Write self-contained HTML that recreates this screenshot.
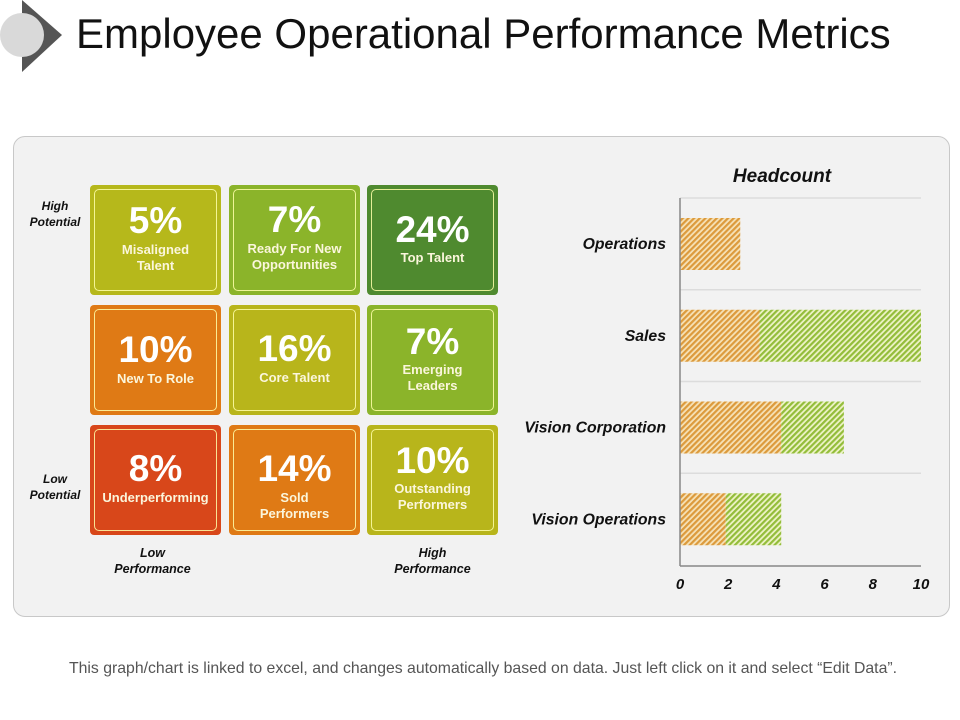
<!DOCTYPE html>
<html><head><meta charset="utf-8"><style>
body{margin:0;width:960px;height:720px;background:#fff;font-family:"Liberation Sans",Arial,sans-serif;position:relative;overflow:hidden}
.abs{position:absolute}
.panel{left:13px;top:136px;width:935px;height:479px;background:#f2f2f2;border:1px solid #c8c8c8;border-radius:12px}
.tile{position:absolute;width:131px;height:110px;border-radius:4px;color:#fff}
.tile .inner{position:absolute;left:4px;top:4px;right:4px;bottom:4px;border:1.5px solid rgba(255,255,170,0.85);border-radius:5px}
.tile .pct{position:absolute;left:0;width:100%;text-align:center;font-weight:bold;font-size:37px;line-height:37px}
.tile .lbl{position:absolute;left:0;width:100%;text-align:center;font-weight:bold;font-size:13px;line-height:16px;color:#fbf6dc}
.axl{font-size:12.5px;font-weight:bold;font-style:italic;text-align:center;line-height:16px;color:#111}
</style></head><body>
<div class="abs" style="left:0;top:0;width:70px;height:72px">
<svg width="70" height="72"><polygon points="22,0 62,35 22,72" fill="#555"/><circle cx="22" cy="35" r="22" fill="#d9d9d9"/></svg></div>
<div class="abs" style="left:76px;top:10px;font-size:42px;color:#111;white-space:nowrap">Employee Operational Performance Metrics</div>
<div class="abs panel"></div>

<div class="abs axl" style="left:17px;top:198px;width:76px;font-size:12px">High<br>Potential</div>
<div class="abs axl" style="left:17px;top:471px;width:76px;font-size:12px">Low<br>Potential</div>
<div class="abs axl" style="left:100px;top:545px;width:105px">Low<br>Performance</div>
<div class="abs axl" style="left:380px;top:545px;width:105px">High<br>Performance</div>

<div class="tile" style="left:90px;top:185px;background:#b6b81b"><div class="inner"></div><div class="pct" style="top:17px">5%</div><div class="lbl" style="top:57px">Misaligned<br>Talent</div></div>
<div class="tile" style="left:229px;top:185px;background:#8bb42a"><div class="inner"></div><div class="pct" style="top:16px">7%</div><div class="lbl" style="top:56px">Ready For New<br>Opportunities</div></div>
<div class="tile" style="left:367px;top:185px;background:#4f8a2f"><div class="inner"></div><div class="pct" style="top:26px">24%</div><div class="lbl" style="top:65px">Top Talent</div></div>
<div class="tile" style="left:90px;top:305px;background:#df7a15"><div class="inner"></div><div class="pct" style="top:26px">10%</div><div class="lbl" style="top:66px">New To Role</div></div>
<div class="tile" style="left:229px;top:305px;background:#b8b51b"><div class="inner"></div><div class="pct" style="top:25px">16%</div><div class="lbl" style="top:65px">Core Talent</div></div>
<div class="tile" style="left:367px;top:305px;background:#8bb42a"><div class="inner"></div><div class="pct" style="top:18px">7%</div><div class="lbl" style="top:57px">Emerging<br>Leaders</div></div>
<div class="tile" style="left:90px;top:425px;background:#d8471a"><div class="inner"></div><div class="pct" style="top:25px">8%</div><div class="lbl" style="top:65px">Underperforming</div></div>
<div class="tile" style="left:229px;top:425px;background:#df7a15"><div class="inner"></div><div class="pct" style="top:25px">14%</div><div class="lbl" style="top:65px">Sold<br>Performers</div></div>
<div class="tile" style="left:367px;top:425px;background:#b8b51b"><div class="inner"></div><div class="pct" style="top:17px">10%</div><div class="lbl" style="top:56px">Outstanding<br>Performers</div></div>

<svg class="abs" id="chart" style="left:0;top:0" width="960" height="720">
<defs>
<pattern id="pOr" width="4" height="4" patternUnits="userSpaceOnUse" patternTransform="rotate(45)"><rect width="4" height="4" fill="#f6e2b8"/><rect width="2.2" height="4" fill="#dc9a3c"/></pattern>
<pattern id="pGr" width="4" height="4" patternUnits="userSpaceOnUse" patternTransform="rotate(45)"><rect width="4" height="4" fill="#eef3c8"/><rect width="2.2" height="4" fill="#93bd3a"/></pattern>
</defs>
<text x="782" y="182" text-anchor="middle" font-size="19" font-weight="bold" font-style="italic" fill="#111">Headcount</text>
<g id="g"></g>
</svg>
<div class="abs" style="left:0;width:966px;top:660px;text-align:center;font-size:15.8px;color:#555;white-space:nowrap">This graph/chart is linked to excel, and changes automatically based on data. Just left click on it and select “Edit Data”.</div>
<script>
const categories=["Operations","Sales","Vision Corporation","Vision Operations"];
const series1=[2.5,3.3,4.2,1.9];
const series2=[0,6.7,2.6,2.3];
const ticks=[0,2,4,6,8,10];
const X0=680,X1=921,XMAX=10,Y0=198,BAND=91.75;
const x=v=>X0+(v/XMAX)*(X1-X0);
const y=i=>Y0+i*BAND;
const g=document.getElementById('g');
const NS="http://www.w3.org/2000/svg";
function mk(t,a){const e=document.createElementNS(NS,t);for(const k in a)e.setAttribute(k,a[k]);g.appendChild(e);return e;}
for(let i=0;i<categories.length;i++){
  const l=mk('line',{x1:X0,x2:X1,y1:y(i),y2:y(i),stroke:'#dcdcdc','stroke-width':1.5});
  
  
}
categories.forEach((c,i)=>{
  const by=y(i)+20,bh=52;
  const a=mk('rect',{x:x(0),y:by,width:x(series1[i])-x(0),height:bh,fill:'url(#pOr)'});
  
  
  if(series2[i]>0){const b=mk('rect',{x:x(series1[i]),y:by,width:x(series1[i]+series2[i])-x(series1[i]),height:bh,fill:'url(#pGr)'});
  
  }
  const t=mk('text',{x:666,y:y(i)+51,'text-anchor':'end','font-size':15.8,'font-weight':'bold','font-style':'italic',fill:'#111'});
  t.textContent=c;
  
  
});
const ax=mk('line',{x1:X0,x2:X0,y1:Y0,y2:y(4)+1,stroke:'#888','stroke-width':1.5});


const bx=mk('line',{x1:X0,x2:X1,y1:y(4)+1,y2:y(4)+1,stroke:'#888','stroke-width':1.5});


ticks.forEach(v=>{const t=mk('text',{x:x(v),y:589,'text-anchor':'middle','font-size':15,'font-weight':'bold','font-style':'italic',fill:'#111'});
t.textContent=v;

});
</script>
</body></html>
